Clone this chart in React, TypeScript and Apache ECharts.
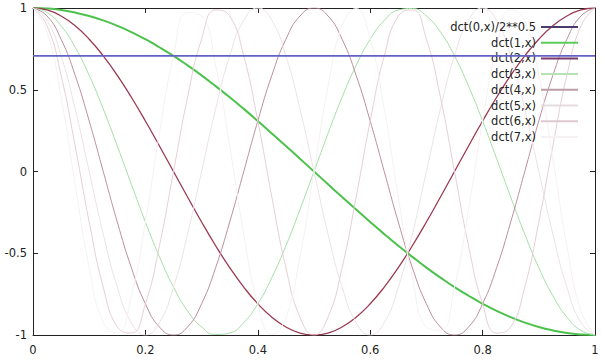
import React, { useEffect, useRef } from "react";
import * as echarts from "echarts";

const xs = [0, 0.025, 0.05, 0.075, 0.1, 0.125, 0.15, 0.175, 0.2, 0.225, 0.25, 0.275, 0.3, 0.325, 0.35, 0.375, 0.4, 0.425, 0.45, 0.475, 0.5, 0.525, 0.55, 0.575, 0.6, 0.625, 0.65, 0.675, 0.7, 0.725, 0.75, 0.775, 0.8, 0.825, 0.85, 0.875, 0.9, 0.925, 0.95, 0.975, 1];

const dct0 = [0.707, 0.707, 0.707, 0.707, 0.707, 0.707, 0.707, 0.707, 0.707, 0.707, 0.707, 0.707, 0.707, 0.707, 0.707, 0.707, 0.707, 0.707, 0.707, 0.707, 0.707, 0.707, 0.707, 0.707, 0.707, 0.707, 0.707, 0.707, 0.707, 0.707, 0.707, 0.707, 0.707, 0.707, 0.707, 0.707, 0.707, 0.707, 0.707, 0.707, 0.707];
const dct1 = [1, 0.997, 0.988, 0.972, 0.951, 0.924, 0.891, 0.853, 0.809, 0.76, 0.707, 0.649, 0.588, 0.522, 0.454, 0.383, 0.309, 0.233, 0.156, 0.078, 0, -0.078, -0.156, -0.233, -0.309, -0.383, -0.454, -0.522, -0.588, -0.649, -0.707, -0.76, -0.809, -0.853, -0.891, -0.924, -0.951, -0.972, -0.988, -0.997, -1];
const dct2 = [1, 0.988, 0.951, 0.891, 0.809, 0.707, 0.588, 0.454, 0.309, 0.156, 0, -0.156, -0.309, -0.454, -0.588, -0.707, -0.809, -0.891, -0.951, -0.988, -1, -0.988, -0.951, -0.891, -0.809, -0.707, -0.588, -0.454, -0.309, -0.156, 0, 0.156, 0.309, 0.454, 0.588, 0.707, 0.809, 0.891, 0.951, 0.988, 1];
const dct3 = [1, 0.972, 0.891, 0.76, 0.588, 0.383, 0.156, -0.078, -0.309, -0.522, -0.707, -0.853, -0.951, -0.997, -0.988, -0.924, -0.809, -0.649, -0.454, -0.233, 0, 0.233, 0.454, 0.649, 0.809, 0.924, 0.988, 0.997, 0.951, 0.853, 0.707, 0.522, 0.309, 0.078, -0.156, -0.383, -0.588, -0.76, -0.891, -0.972, -1];
const dct4 = [1, 0.951, 0.809, 0.588, 0.309, 0, -0.309, -0.588, -0.809, -0.951, -1, -0.951, -0.809, -0.588, -0.309, 0, 0.309, 0.588, 0.809, 0.951, 1, 0.951, 0.809, 0.588, 0.309, 0, -0.309, -0.588, -0.809, -0.951, -1, -0.951, -0.809, -0.588, -0.309, 0, 0.309, 0.588, 0.809, 0.951, 1];
const dct5 = [1, 0.924, 0.707, 0.383, 0, -0.383, -0.707, -0.924, -1, -0.924, -0.707, -0.383, 0, 0.383, 0.707, 0.924, 1, 0.924, 0.707, 0.383, 0, -0.383, -0.707, -0.924, -1, -0.924, -0.707, -0.383, 0, 0.383, 0.707, 0.924, 1, 0.924, 0.707, 0.383, 0, -0.383, -0.707, -0.924, -1];
const dct6 = [1, 0.891, 0.588, 0.156, -0.309, -0.707, -0.951, -0.988, -0.809, -0.454, 0, 0.454, 0.809, 0.988, 0.951, 0.707, 0.309, -0.156, -0.588, -0.891, -1, -0.891, -0.588, -0.156, 0.309, 0.707, 0.951, 0.988, 0.809, 0.454, 0, -0.454, -0.809, -0.988, -0.951, -0.707, -0.309, 0.156, 0.588, 0.891, 1];
const dct7 = [1, 0.853, 0.454, -0.078, -0.588, -0.924, -0.988, -0.76, -0.309, 0.233, 0.707, 0.972, 0.951, 0.649, 0.156, -0.383, -0.809, -0.997, -0.891, -0.522, 0, 0.522, 0.891, 0.997, 0.809, 0.383, -0.156, -0.649, -0.951, -0.972, -0.707, -0.233, 0.309, 0.76, 0.988, 0.924, 0.588, 0.078, -0.454, -0.853, -1];

const seriesNames = ["dct(0,x)/2**0.5", "dct(1,x)", "dct(2,x)", "dct(3,x)", "dct(4,x)", "dct(5,x)", "dct(6,x)", "dct(7,x)"];
const seriesValues = [dct0, dct1, dct2, dct3, dct4, dct5, dct6, dct7];
const seriesColors = ["#6262c6", "#4cc24c", "#9a3a52", "#a6dea6", "#bc8e9e", "#ece2e6", "#e6ced6", "#f5f1f3"];
const legendColors = ["#4a3a6e", "#5acc5a", "#7a3a6a", "#b6e2b6", "#bc9eaa", "#e6dce0", "#dccad0", "#f6f2f4"];
const seriesWidths = [1.8, 2, 1.3, 1, 1, 1, 1, 1];
const xTicks = { min: 0, max: 1, interval: 0.2 };
const yTicks = { min: -1, max: 1, interval: 0.5 };

const FONT = "DejaVu Sans";
const TEXT = "#222";

export default function App() {
  const ref = useRef<HTMLDivElement>(null);
  useEffect(() => {
    if (!ref.current) return;
    const chart = echarts.init(ref.current, undefined, { renderer: "svg" });
    const axisLine = { show: true, onZero: false, lineStyle: { color: "#222", width: 1 } };
    const tick = { show: true, inside: true, length: 5, lineStyle: { color: "#222" } };
    chart.setOption({
      animation: false,
      backgroundColor: "#fff",
      grid: { left: 33, right: 7, top: 8, bottom: 26, containLabel: false },
      legend: {
        orient: "vertical",
        align: "right",
        right: 18,
        top: 16,
        itemWidth: 37,
        itemHeight: 14,
        itemGap: 3.7,
        textStyle: { fontFamily: FONT, fontSize: 11.5, color: TEXT },
        itemStyle: { opacity: 0, borderWidth: 0 },
        data: seriesNames.map((n, i) => ({ name: n, lineStyle: { color: legendColors[i] }, itemStyle: { opacity: 0, borderWidth: 0, color: "transparent" } })),
        selectedMode: false,
      },
      xAxis: [
        {
          type: "value", ...xTicks, position: "bottom",
          axisLine, axisTick: tick, splitLine: { show: false },
          axisLabel: { fontFamily: FONT, fontSize: 11.5, color: TEXT, margin: 9 },
        },
        {
          type: "value", ...xTicks, position: "top",
          axisLine, axisTick: tick, splitLine: { show: false }, axisLabel: { show: false },
        },
      ],
      yAxis: [
        {
          type: "value", ...yTicks, position: "left",
          axisLine, axisTick: tick, splitLine: { show: false },
          axisLabel: { fontFamily: FONT, fontSize: 11.5, color: TEXT, margin: 6 },
        },
        {
          type: "value", ...yTicks, position: "right",
          axisLine, axisTick: tick, splitLine: { show: false }, axisLabel: { show: false },
        },
      ],
      series: seriesNames.map((name, i) => ({
        name,
        type: "line",
        xAxisIndex: 0,
        yAxisIndex: 0,
        data: xs.map((x, j) => [x, seriesValues[i][j]]),
        symbol: "none",
        showSymbol: false,
        smooth: i === 0 ? false : 0.5,
        clip: true,
        z: i === 0 ? 10 : 2 + i * 0.1,
        lineStyle: { color: seriesColors[i], width: seriesWidths[i] },
        itemStyle: { color: seriesColors[i] },
      })),
    });
    return () => chart.dispose();
  }, []);
  return <div ref={ref} style={{ width: 602, height: 361, position: "absolute", left: 0, top: 0 }} />;
}
